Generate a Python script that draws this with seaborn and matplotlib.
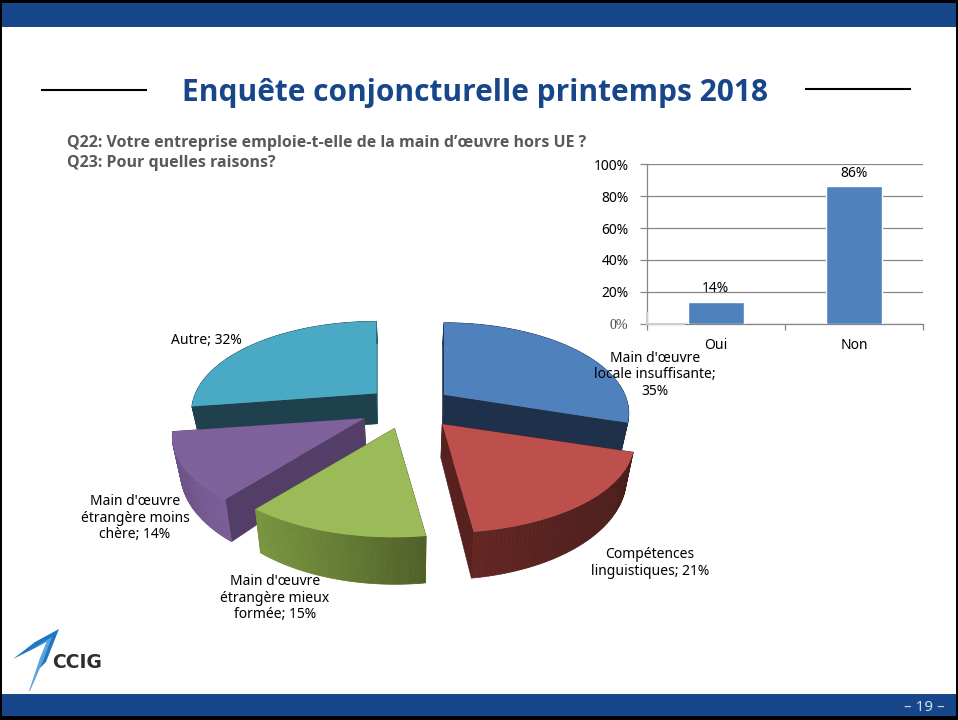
# %%
# Enquête conjoncturelle printemps 2018 - slide with exploded 3D pie and small bar chart
import numpy as np
import pandas as pd
import matplotlib
matplotlib.use('Agg')
import matplotlib.pyplot as plt
import matplotlib.transforms as mtransforms
from matplotlib.collections import PolyCollection
from matplotlib.colors import to_rgb
from matplotlib.patches import Polygon, Rectangle
from matplotlib.ticker import FixedLocator
import seaborn as sns

# pie data (Q23), the answers do not add up to 100
pie_labels = ["Main d'œuvre\nlocale insuffisante;\n35%",
              "Compétences\nlinguistiques; 21%",
              "Main d'œuvre\nétrangère mieux\nformée; 15%",
              "Main d'œuvre\nétrangère moins\nchère; 14%",
              "Autre; 32%"]
pie_values = [35, 21, 15, 14, 32]

# bar data (Q22)
bar_categories = ['Oui', 'Non']
bar_values = [14, 86]
bar_ticks = [0, 20, 40, 60, 80, 100]

title = 'Enquête conjoncturelle printemps 2018'
question_1 = 'Q22: Votre entreprise emploie-t-elle de la main d’œuvre hors UE ?'
question_2 = 'Q23: Pour quelles raisons?'
page = '– 19 –'

W, H = 958, 720
BLUE = '#17468a'

# pie view in slide pixels
PIE_X, PIE_Y = 407, 407.5
RY, K = 86.7, 0.204
SHRINK = 0.965

top_colors = ['#4f81bd', '#bd4f4c', '#9bbb59', '#7f619c', '#4aa9c4']
cut_colors = ['#1e304a', '#56211f', '#4f6228', '#533e68', '#1e414d']
cut_back = ['#1e304a', '#56211f', '#4f6228', '#533e68', '#2f7f96']
side_left = ['#1e304a', '#632623', '#7a9741', '#6d5387', '#1e414d']
side_right = ['#1e304a', '#4a1d1b', '#4f6028', '#7b5c98', '#1e414d']
layer = [2, 3, 4, 3, 2]
nudge = [-1, 5, 0, -2, 5]
slice_rx = [181, 188, 188, 188, 181]
label_pos = [(655, 375), (650, 563), (275, 598), (135, 518), (206, 340)]


class PieView(mtransforms.Transform):
    # pie plane -> slide pixels, with perspective around the slice's own apex
    input_dims = 2
    output_dims = 2

    def __init__(self, center, shift, rx):
        super().__init__()
        self.center = center
        self.shift = shift
        self.rx = rx

    def transform_non_affine(self, values):
        values = np.asarray(values, dtype=float)
        cx, cy = self.center
        du = values[:, 0] - cx
        dv = values[:, 1] - cy
        w = 1 + K * dv
        return np.column_stack([PIE_X + self.shift + 188 * cx + self.rx * du / w,
                                PIE_Y - RY * (cy + dv / w)])


def drop(points):
    # bottom face of the slab
    v = (PIE_Y - points[:, 1]) / RY
    return np.column_stack([PIE_X + (points[:, 0] - PIE_X) * SHRINK,
                            points[:, 1] + 32 - 10 * v])


sns.set_theme(style='white')
plt.rcParams['font.family'] = ['Noto Sans', 'DejaVu Sans']

fig = plt.figure(figsize=(W / 100, H / 100), dpi=100, facecolor='white')
ax = fig.add_axes([0, 0, 1, 1])

# %%
# pie
wedges, _ = ax.pie(pie_values, explode=[0.25] * 5, startangle=90, counterclock=False)
ax.set_aspect('auto')
ax.set_xlim(0, W)
ax.set_ylim(H, 0)
ax.axis('off')

for i, w in enumerate(wedges):
    view = PieView(w.center, nudge[i], slice_rx[i])
    w.set_transform(view + ax.transData)
    w.set_facecolor(top_colors[i])
    w.set_edgecolor('none')
    w.set_zorder(layer[i] + 0.5)

    cx, cy = w.center
    t = np.radians(np.linspace(w.theta1, w.theta2, 60))
    rim = view.transform(np.column_stack([cx + np.cos(t), cy + np.sin(t)]))
    rim_low = drop(rim)
    apex = view.transform(np.array([[cx, cy]]))
    apex_low = drop(apex)

    # theta1 is the clockwise end of the slice
    for end, col in [(0, cut_back[i]), (-1, cut_colors[i])]:
        face = np.vstack([apex, rim[end], rim_low[end], apex_low])
        ax.add_patch(Polygon(face, closed=True, fc=col, ec=col, lw=0.5, zorder=layer[i]))

    # outer rim, split in thin quads for the gradient (left to right on screen)
    quads = [np.vstack([rim[j], rim[j + 1], rim_low[j + 1], rim_low[j]]) for j in range(59)]
    pos = (rim[:-1, 0] - rim[:, 0].min()) / (rim[:, 0].max() - rim[:, 0].min())
    c0, c1 = np.array(to_rgb(side_left[i])), np.array(to_rgb(side_right[i]))
    cols = [c0 + (c1 - c0) * p for p in pos]
    ax.add_collection(PolyCollection(quads, facecolors=cols, edgecolors=cols,
                                     linewidths=0.5, zorder=layer[i] + 0.2))

for lab, (x, y) in zip(pie_labels, label_pos):
    ax.text(x, y, lab, ha='center', va='center', fontsize=10, color='black',
            linespacing=1.17, zorder=10)

# %%
# slide furniture
ax.add_patch(Rectangle((0, 0), W, 27, fc=BLUE, ec='none', zorder=1))
ax.add_patch(Rectangle((0, 694), W, 26, fc=BLUE, ec='none', zorder=1))
ax.add_patch(Rectangle((0, 0), W, 3, fc='black', ec='none', zorder=1.5))
ax.add_patch(Rectangle((0, 716), W, 4, fc='black', ec='none', zorder=1.5))
ax.add_patch(Rectangle((0, 0), 2, H, fc='black', ec='none', zorder=1.5))
ax.add_patch(Rectangle((956, 0), 2, H, fc='black', ec='none', zorder=1.5))
ax.plot([41, 147], [90, 90], color='black', lw=1.5, solid_capstyle='butt')
ax.plot([805, 911], [89, 89], color='black', lw=1.5, solid_capstyle='butt')

ax.text(475, 93, title, ha='center', va='center', fontsize=21.5, fontweight='bold',
        family=['Open Sans', 'DejaVu Sans'], color=BLUE)
ax.text(67, 143, question_1, ha='left', va='center', fontsize=11.5, fontweight='bold',
        family=['Open Sans', 'DejaVu Sans'], color='#595959')
ax.text(67, 163, question_2, ha='left', va='center', fontsize=11.5, fontweight='bold',
        family=['Open Sans', 'DejaVu Sans'], color='#595959')
ax.text(924, 707.5, page, ha='center', va='center', fontsize=11, color='#d5dcea')

# logo
ax.add_patch(Polygon([(13, 659), (35, 642), (59, 629), (46, 662), (37, 671), (50, 640), (35, 648)],
                     closed=True, fc='#1f78c1', ec='none', zorder=5))
ax.add_patch(Polygon([(33, 648), (52, 637), (43, 661), (30, 691), (29, 691), (40, 658), (47, 641)],
                     closed=True, fc='#5ba3dc', ec='none', zorder=5))
ax.text(52, 662, 'CCIG', ha='left', va='center', fontsize=13.5, fontweight='bold',
        family='DejaVu Sans', color='#2e2e2e', zorder=5)

# %%
# bar chart
left, right, top, bottom = 646.5, 923, 164, 324
ax2 = fig.add_axes([left / W, 1 - bottom / H, (right - left) / W, (bottom - top) / H])
ax2.patch.set_alpha(0)
df_bar = pd.DataFrame({'rep': bar_categories, 'val': bar_values})
sns.barplot(data=df_bar, x='rep', y='val', color='#4f81bd', saturation=1, width=0.405, ax=ax2, zorder=3)
ax2.set_xlim(-0.5, 1.5)
ax2.set_ylim(0, 100)
ax2.set_xlabel('')
ax2.set_ylabel('')
ax2.set_yticks(bar_ticks)
ax2.set_yticklabels([f'{v}%' for v in bar_ticks], fontsize=10, color='black')
ax2.yaxis.grid(True, color='#868686', lw=0.9, zorder=0)
ax2.xaxis.grid(False)
ax2.set_axisbelow(True)
for name in ['top', 'right']:
    ax2.spines[name].set_visible(False)
for name in ['left', 'bottom']:
    ax2.spines[name].set_color('#868686')
    ax2.spines[name].set_linewidth(0.9)
ax2.tick_params(axis='y', left=True, length=5, width=0.9, color='#868686', pad=8)
ax2.tick_params(axis='x', bottom=False, labelsize=10, labelcolor='black', pad=4)
ax2.xaxis.set_minor_locator(FixedLocator([-0.5, 0.5, 1.5]))
ax2.tick_params(axis='x', which='minor', bottom=True, length=4, width=0.9, color='#868686')
ax2.bar_label(ax2.containers[0], labels=[f'{v}%' for v in bar_values], fontsize=10, padding=4, color='black')

# the 0% corner is a pasted, blurry patch in the original
zero_label = ax2.get_yticklabels()[0]
zero_label.set_fontfamily('Liberation Serif')
zero_label.set_color('#444444')
ax2.plot([-0.5, -0.23], [0, 0], color='#cfcfcf', lw=1.5, clip_on=False, zorder=5)
ax2.plot([-0.5, -0.5], [0, 7], color='#cfcfcf', lw=1.5, clip_on=False, zorder=5)

plt.savefig('out.png', dpi=100)
